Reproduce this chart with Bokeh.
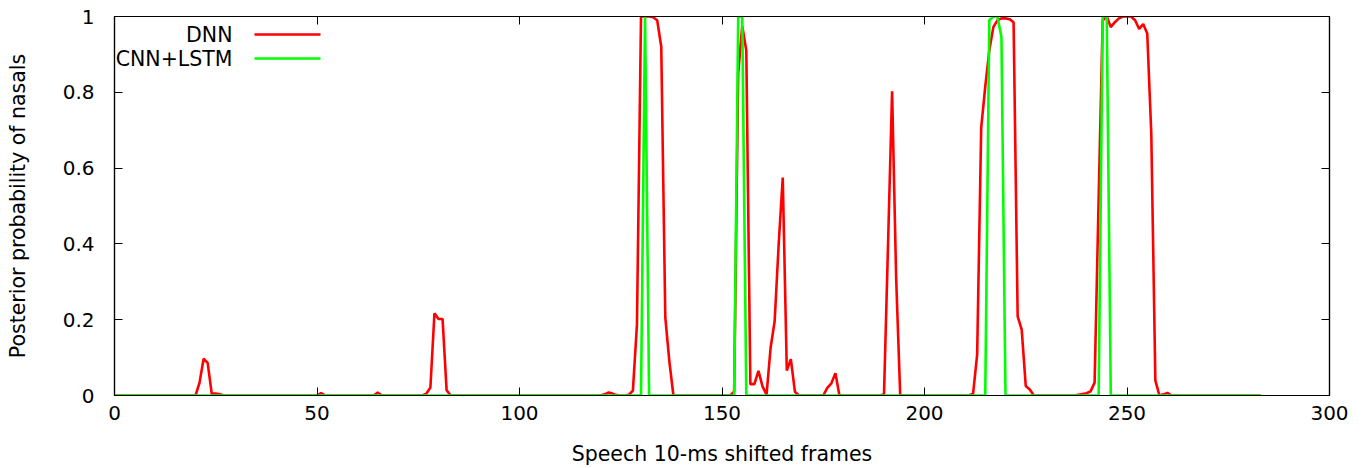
from bokeh.plotting import figure
from bokeh.models import (Range1d, LinearAxis, FixedTicker, PrintfTickFormatter,
                          Label, Arrow, CustomJSTickFormatter)
from bokeh.embed import file_html
from bokeh.resources import INLINE

# ---------------- data (frame index -> posterior) ----------------
frames = list(range(0, 284))

dnn = [
    # 0-19
    0, 0, 0, 0, 0, 0, 0, 0, 0, 0, 0, 0, 0, 0, 0, 0, 0, 0, 0, 0,
    # 20-39
    0.0, 0.034, 0.097, 0.086, 0.005, 0.005, 0.003, 0, 0, 0, 0, 0, 0, 0, 0, 0, 0, 0, 0, 0,
    # 40-59
    0, 0, 0, 0, 0, 0, 0, 0, 0, 0, 0.0, 0.006, 0.0, 0, 0, 0, 0, 0, 0, 0,
    # 60-79
    0, 0, 0, 0, 0.0, 0.008, 0.0, 0, 0, 0, 0, 0, 0, 0, 0, 0, 0, 0.005, 0.021, 0.217,
    # 80-99
    0.202, 0.202, 0.014, 0.0, 0, 0, 0, 0, 0, 0, 0, 0, 0, 0, 0, 0, 0, 0, 0, 0,
    # 100-119
    0, 0, 0, 0, 0, 0, 0, 0, 0, 0, 0, 0, 0, 0, 0, 0, 0, 0, 0, 0,
    # 120-139
    0.0, 0.003, 0.008, 0.005, 0.001, 0, 0, 0.002, 0.013, 0.187, 1.0, 1.0, 1.0, 0.998, 0.99, 0.92, 0.206, 0.09, 0.0, 0,
    # 140-159
    0, 0, 0, 0, 0, 0, 0, 0, 0, 0, 0, 0, 0, 0.01, 0.85, 0.975, 0.91, 0.03, 0.03, 0.065,
    # 160-179
    0.024, 0.002, 0.126, 0.196, 0.40, 0.575, 0.066, 0.096, 0.01, 0.0, 0, 0, 0, 0, 0, 0.0, 0.02, 0.032, 0.059, 0.0,
    # 180-199
    0, 0, 0, 0, 0, 0, 0, 0, 0, 0, 0.003, 0.40, 0.803, 0.31, 0.0, 0, 0, 0, 0, 0,
    # 200-219
    0, 0, 0, 0, 0, 0, 0, 0, 0, 0, 0, 0, 0.005, 0.108, 0.706, 0.815, 0.91, 0.972, 0.99, 0.995,
    # 220-239
    0.995, 0.993, 0.985, 0.209, 0.174, 0.025, 0.016, 0.0, 0, 0, 0, 0, 0, 0, 0, 0, 0, 0, 0.002, 0.004,
    # 240-259
    0.006, 0.011, 0.034, 0.52, 0.99, 1.0, 0.972, 0.985, 0.995, 1.0, 1.0, 1.0, 0.99, 0.967, 0.98, 0.955, 0.69, 0.04, 0.0, 0.003,
    # 260-283
    0.007, 0.0, 0, 0, 0, 0, 0, 0, 0, 0, 0, 0, 0, 0, 0, 0, 0, 0, 0, 0, 0, 0, 0, 0,
]

cnn_lstm = [
    # 0-119
    0, 0, 0, 0, 0, 0, 0, 0, 0, 0, 0, 0, 0, 0, 0, 0, 0, 0, 0, 0,
    0, 0, 0, 0, 0, 0, 0, 0, 0, 0, 0, 0, 0, 0, 0, 0, 0, 0, 0, 0,
    0, 0, 0, 0, 0, 0, 0, 0, 0, 0, 0, 0, 0, 0, 0, 0, 0, 0, 0, 0,
    0, 0, 0, 0, 0, 0, 0, 0, 0, 0, 0, 0, 0, 0, 0, 0, 0, 0, 0, 0,
    0, 0, 0, 0, 0, 0, 0, 0, 0, 0, 0, 0, 0, 0, 0, 0, 0, 0, 0, 0,
    0, 0, 0, 0, 0, 0, 0, 0, 0, 0, 0, 0, 0, 0, 0, 0, 0, 0, 0, 0,
    # 120-139
    0, 0, 0, 0, 0, 0, 0, 0, 0, 0, 0.0, 1.0, 0.0, 0, 0, 0, 0, 0, 0, 0,
    # 140-159
    0, 0, 0, 0, 0, 0, 0, 0, 0, 0, 0, 0, 0, 0.0, 1.0, 1.0, 0.0, 0, 0, 0,
    # 160-199
    0, 0, 0, 0, 0, 0, 0, 0, 0, 0, 0, 0, 0, 0, 0, 0, 0, 0, 0, 0,
    0, 0, 0, 0, 0, 0, 0, 0, 0, 0, 0, 0, 0, 0, 0, 0, 0, 0, 0, 0,
    # 200-219
    0, 0, 0, 0, 0, 0, 0, 0, 0, 0, 0, 0, 0, 0, 0, 0.0, 0.99, 1.0, 1.0, 0.946,
    # 220-239
    0.0, 0, 0, 0, 0, 0, 0, 0, 0, 0, 0, 0, 0, 0, 0, 0, 0, 0, 0, 0,
    # 240-259
    0, 0, 0, 0.0, 1.0, 1.0, 0.0, 0, 0, 0, 0, 0, 0, 0, 0, 0, 0, 0, 0, 0,
    # 260-283
    0, 0, 0, 0, 0, 0, 0, 0, 0, 0, 0, 0, 0, 0, 0, 0, 0, 0, 0, 0, 0, 0, 0, 0,
]

x_ticks = [0, 50, 100, 150, 200, 250, 300]
y_ticks = [0, 0.2, 0.4, 0.6, 0.8, 1.0]
series_names = ["DNN", "CNN+LSTM"]
series_colors = ["#ff0000", "#00ff00"]

FONT = "DejaVu Sans"
FS = "20px"
FS_LABEL = "20.5px"

p = figure(width=1372, height=468, output_backend="svg", toolbar_location=None,
           x_range=Range1d(0, 300), y_range=Range1d(0, 1),
           min_border_left=114, min_border_right=43, min_border_top=16, min_border_bottom=70)

p.xgrid.visible = False
p.ygrid.visible = False
p.outline_line_color = "black"
p.outline_line_width = 1.2
p.background_fill_color = "white"
p.border_fill_color = "white"

for ax, ticks in ((p.xaxis[0], x_ticks), (p.yaxis[0], y_ticks)):
    ax.ticker = FixedTicker(ticks=ticks)
    ax.formatter = PrintfTickFormatter(format="%g")
    ax.major_tick_in = 8
    ax.major_tick_out = 0
    ax.minor_tick_in = 0
    ax.minor_tick_out = 0
    ax.axis_line_color = "black"
    ax.axis_line_width = 1.2
    ax.major_tick_line_color = "black"
    ax.major_label_text_font = FONT
    ax.major_label_text_font_size = FS
    ax.major_label_text_color = "black"
    ax.axis_label_text_font = FONT
    ax.axis_label_text_font_size = FS_LABEL
    ax.axis_label_text_font_style = "normal"
    ax.axis_label_text_color = "black"

p.xaxis[0].axis_label = "Speech 10-ms shifted frames"
p.xaxis[0].major_label_standoff = 10
p.xaxis[0].axis_label_standoff = 19
p.yaxis[0].axis_label = "Posterior probability of nasals"
p.yaxis[0].major_label_standoff = 20
p.yaxis[0].axis_label_standoff = 30

# mirrored tick marks on top and right (no labels)
blank = CustomJSTickFormatter(code="return ''")
top = LinearAxis(ticker=FixedTicker(ticks=x_ticks), formatter=blank,
                 major_tick_in=8, major_tick_out=0, minor_tick_in=0, minor_tick_out=0,
                 major_label_standoff=0, major_label_text_font_size="0px",
                 axis_line_color="black", axis_line_width=1.2)
right = LinearAxis(ticker=FixedTicker(ticks=y_ticks), formatter=blank,
                   major_tick_in=8, major_tick_out=0, minor_tick_in=0, minor_tick_out=0,
                   major_label_standoff=0, major_label_text_font_size="0px",
                   axis_line_color="black", axis_line_width=1.2)
p.add_layout(top, "above")
p.add_layout(right, "right")

p.line(frames, dnn, line_color=series_colors[0], line_width=2.6)
p.line(frames, cnn_lstm, line_color=series_colors[1], line_width=2.6)

# gnuplot-style key: text right-aligned, sample line on its right
key_rows_y = [361, 337]
for name, color, ky in zip(series_names, series_colors, key_rows_y):
    p.add_layout(Label(x=118, y=ky, x_units="screen", y_units="screen", text=name,
                       text_align="right", text_baseline="middle",
                       text_font=FONT, text_font_size=FS_LABEL, text_color="black"))
    p.add_layout(Arrow(end=None, x_start=140, y_start=ky, x_end=206, y_end=ky,
                       start_units="screen", end_units="screen",
                       line_color=color, line_width=2.6))

open("out.html", "w").write(file_html(p, INLINE))
